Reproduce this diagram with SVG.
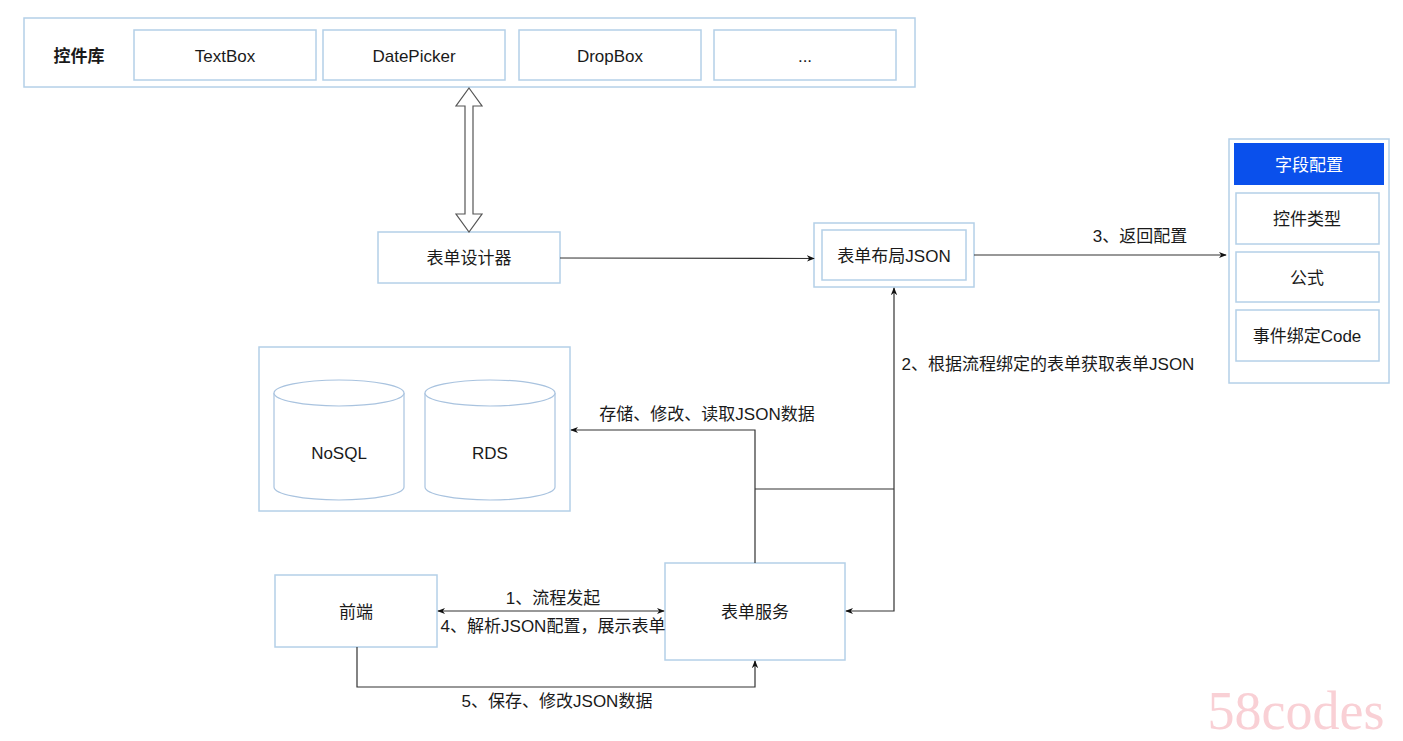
<svg xmlns="http://www.w3.org/2000/svg" width="1403" height="741" viewBox="0 0 1403 741">
<style>
.box{fill:#fff;stroke:#b4d0e8;stroke-width:1.5}
.t{font-family:"Liberation Sans","Noto Sans CJK SC",sans-serif;font-size:17px;fill:#1a1a1a;text-anchor:middle;dominant-baseline:central}
.c{fill:none;stroke:#333;stroke-width:1.2}
.cyl{fill:#fff;stroke:#a9c3df;stroke-width:1.2}
</style>
<defs>
<marker id="ah" viewBox="0 0 10 10" refX="9" refY="5" markerWidth="8" markerHeight="8" markerUnits="userSpaceOnUse" orient="auto-start-reverse"><path d="M0,1 L10,5 L0,9 L3,5 Z" fill="#111"/></marker>
</defs>
<rect width="1403" height="741" fill="#fff"/>
<g id="lib">
<rect class="box" x="24" y="18" width="891" height="69"/>
<text class="t" x="79" y="56" style="font-weight:bold">控件库</text>
</g>
<g id="textbox"><rect class="box" x="134" y="30" width="182" height="50"/><text class="t" x="225" y="56">TextBox</text></g>
<g id="datepicker"><rect class="box" x="323" y="30" width="182" height="50"/><text class="t" x="414" y="56">DatePicker</text></g>
<g id="dropbox"><rect class="box" x="519" y="30" width="182" height="50"/><text class="t" x="610" y="56">DropBox</text></g>
<g id="more"><rect class="box" x="714" y="30" width="182" height="50"/><text class="t" x="805" y="56">...</text></g>
<g id="designer"><rect class="box" x="378" y="232" width="182" height="51"/><text class="t" x="469" y="258">表单设计器</text></g>
<g id="layout"><rect class="box" x="814" y="223" width="160" height="64"/><rect class="box" x="822" y="230" width="144" height="50"/><text class="t" x="894" y="256">表单布局JSON</text></g>
<g id="fields">
<rect class="box" x="1229" y="139" width="160" height="244"/>
<rect x="1234" y="143" width="150" height="42" fill="#0a50ec"/>
<text class="t" x="1309" y="165" style="fill:#fff">字段配置</text>
<rect class="box" x="1236" y="193" width="143" height="51"/><text class="t" x="1307" y="219">控件类型</text>
<rect class="box" x="1236" y="252" width="143" height="50"/><text class="t" x="1307" y="278">公式</text>
<rect class="box" x="1236" y="310" width="143" height="51"/><text class="t" x="1307" y="336">事件绑定Code</text>
</g>
<g id="db">
<rect class="box" x="259" y="347" width="311" height="164"/>
<path class="cyl" d="M274,393 A65,13 0 0 1 404,393 L404,487 A65,13 0 0 1 274,487 Z"/>
<path class="cyl" d="M274,393 A65,13 0 0 0 404,393"/>
<text class="t" x="339" y="453">NoSQL</text>
<path class="cyl" d="M425,393 A65,13 0 0 1 555,393 L555,487 A65,13 0 0 1 425,487 Z"/>
<path class="cyl" d="M425,393 A65,13 0 0 0 555,393"/>
<text class="t" x="490" y="453">RDS</text>
</g>
<g id="frontend"><rect class="box" x="275" y="575" width="162" height="72"/><text class="t" x="356" y="612">前端</text></g>
<g id="formsvc"><rect class="box" x="665" y="563" width="180" height="97"/><text class="t" x="755" y="612">表单服务</text></g>
<g id="connectors">
<path d="M469,88 L482,106 L473,106 L473,214 L482,214 L469,232 L456,214 L465,214 L465,106 L456,106 Z" fill="#fff" stroke="#555" stroke-width="1.2"/>
<path class="c" d="M560,258 L814,258.5" marker-end="url(#ah)"/>
<path class="c" d="M974,255 L1226,255" marker-end="url(#ah)"/>
<text class="t" x="1140" y="236">3、返回配置</text>
<path class="c" d="M755,563 L755,430 L571,430" marker-end="url(#ah)"/>
<text class="t" x="707" y="414">存储、修改、读取JSON数据</text>
<path class="c" d="M755,489 L894,489"/>
<path class="c" d="M894,489 L894,288" marker-end="url(#ah)"/>
<path class="c" d="M894,489 L894,611 L846,611" marker-end="url(#ah)"/>
<text class="t" x="1048" y="364">2、根据流程绑定的表单获取表单JSON</text>
<path class="c" d="M438,611 L664,611" marker-start="url(#ah)" marker-end="url(#ah)"/>
<text class="t" x="553" y="598">1、流程发起</text>
<text class="t" x="553" y="626">4、解析JSON配置，展示表单</text>
<path class="c" d="M357,647 L357,687 L755,687 L755,661" marker-end="url(#ah)"/>
<text class="t" x="557" y="701">5、保存、修改JSON数据</text>
</g>
<text x="1296" y="711" style="font-family:'Liberation Serif',serif;font-size:54px;fill:#f9d0d5;text-anchor:middle;dominant-baseline:central">58codes</text>
</svg>
